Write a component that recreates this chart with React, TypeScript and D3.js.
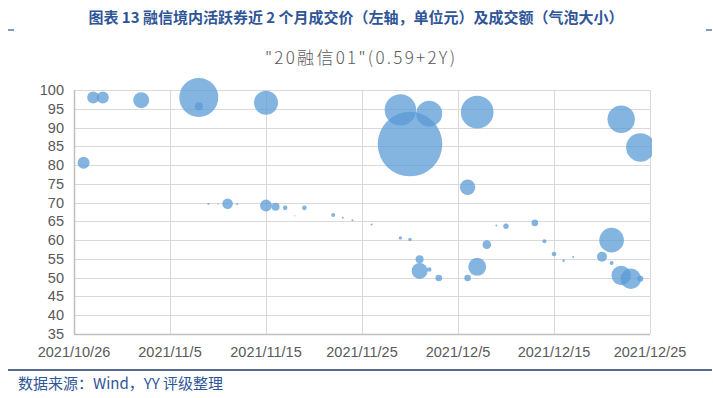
import React, { useEffect, useRef } from 'react';
import * as d3 from 'd3';

// trade dates, price (left axis, yuan) and volume (bubble size)
const dates = [
  "2021/10/27", "2021/10/28", "2021/10/29", "2021/11/2", "2021/11/8", "2021/11/8",
  "2021/11/9", "2021/11/10", "2021/11/11", "2021/11/12", "2021/11/15", "2021/11/15",
  "2021/11/16", "2021/11/17", "2021/11/18", "2021/11/19", "2021/11/22", "2021/11/23",
  "2021/11/24", "2021/11/26", "2021/11/29", "2021/11/29", "2021/11/30", "2021/11/30",
  "2021/12/1", "2021/12/1", "2021/12/2", "2021/12/2", "2021/12/3", "2021/12/6",
  "2021/12/6", "2021/12/7", "2021/12/7", "2021/12/8", "2021/12/9", "2021/12/10",
  "2021/12/13", "2021/12/14", "2021/12/15", "2021/12/16", "2021/12/17", "2021/12/20",
  "2021/12/21", "2021/12/21", "2021/12/22", "2021/12/22", "2021/12/23", "2021/12/24",
  "2021/12/24",
];
const prices = [
  80.6, 98.0, 98.0, 97.3, 98.0, 95.7,
  69.6, 69.6, 69.7, 69.6, 96.6, 69.2,
  68.9, 68.6, 66.5, 68.6, 66.7, 66.0,
  65.3, 64.2, 94.7, 60.6, 85.6, 60.2,
  54.9, 51.8, 93.7, 52.2, 49.9, 74.1,
  49.9, 94.1, 52.9, 58.8, 63.9, 63.7,
  64.6, 59.7, 56.3, 54.5, 55.5, 55.6,
  60.0, 53.9, 92.2, 50.6, 49.7, 84.7,
  49.7,
];
const volumes = [
  360, 360, 360, 640, 3800, 160,
  10, 5, 280, 10, 1440, 360,
  160, 53, 3, 53, 40, 10,
  10, 10, 2465, 29, 10433, 29,
  160, 640, 1690, 53, 109, 593,
  109, 2657, 810, 185, 10, 73,
  109, 40, 53, 17, 10, 250,
  1513, 40, 1877, 941, 1061, 2045,
  90,
];
const tickDates = ["2021/10/26", "2021/11/5", "2021/11/15", "2021/11/25", "2021/12/5", "2021/12/15", "2021/12/25"];
const priceTicks = [35, 40, 45, 50, 55, 60, 65, 70, 75, 80, 85, 90, 95, 100];

const W = 713;
const H = 398;

export default function App() {
  const svgRef = useRef<SVGSVGElement>(null);

  useEffect(() => {
    if (!svgRef.current) return;
    const svg = d3.select(svgRef.current);
    svg.selectAll("*").remove();

    const parse = d3.timeParse("%Y/%m/%d");
    const fmt = d3.timeFormat("%Y/%-m/%-d");
    const margin = { top: 90, right: 63, bottom: 64, left: 74 };

    const x = d3.scaleTime()
      .domain([parse(tickDates[0])!, parse(tickDates[tickDates.length - 1])!])
      .range([margin.left, W - margin.right]);
    const y = d3.scaleLinear()
      .domain([35, 100])
      .range([H - margin.bottom, margin.top]);
    const r = d3.scaleSqrt().domain([0, 10433]).range([0, 32.3]);

    // header
    svg.append("text")
      .attr("x", 356).attr("y", 23)
      .attr("text-anchor", "middle")
      .attr("font-family", "'Noto Sans CJK SC', sans-serif")
      .attr("font-size", 15).attr("font-weight", "bold")
      .attr("fill", "#2f5597")
      .text("图表 13 融信境内活跃券近 2 个月成交价（左轴，单位元）及成交额（气泡大小）");
    svg.append("line").attr("x1", 8).attr("x2", 14).attr("y1", 30).attr("y2", 30)
      .attr("stroke", "#2f5597").attr("stroke-width", 1.2);
    svg.append("line").attr("x1", 706).attr("x2", 712).attr("y1", 30).attr("y2", 30)
      .attr("stroke", "#2f5597").attr("stroke-width", 1.2);

    svg.append("text")
      .attr("x", 265).attr("y", 64)
      .attr("textLength", 190).attr("lengthAdjust", "spacing")
      .attr("font-family", "'Noto Sans CJK SC', sans-serif")
      .attr("font-size", 17).attr("font-weight", 300)
      .attr("fill", "#595959")
      .text('"20融信01"(0.59+2Y)');

    // grid
    const grid = svg.append("g").attr("stroke", "#d9d9d9").attr("stroke-width", 1);
    grid.selectAll("line.h")
      .data(priceTicks.slice(1))
      .enter().append("line")
      .attr("x1", margin.left).attr("x2", W - margin.right)
      .attr("y1", d => Math.round(y(d)) + 0.5).attr("y2", d => Math.round(y(d)) + 0.5);
    grid.selectAll("line.v")
      .data(tickDates.slice(1))
      .enter().append("line")
      .attr("x1", d => Math.round(x(parse(d)!)) + 0.5).attr("x2", d => Math.round(x(parse(d)!)) + 0.5)
      .attr("y1", margin.top).attr("y2", H - margin.bottom);

    // axes lines
    svg.append("line")
      .attr("x1", margin.left + 0.5).attr("x2", margin.left + 0.5)
      .attr("y1", margin.top).attr("y2", H - margin.bottom)
      .attr("stroke", "#bfbfbf").attr("stroke-width", 1.5);
    svg.append("line")
      .attr("x1", margin.left).attr("x2", W - margin.right)
      .attr("y1", H - margin.bottom + 0.5).attr("y2", H - margin.bottom + 0.5)
      .attr("stroke", "#bfbfbf").attr("stroke-width", 1.5);

    // tick labels
    svg.append("g").selectAll("text")
      .data(priceTicks)
      .enter().append("text")
      .attr("x", margin.left - 10)
      .attr("y", d => y(d) + 5)
      .attr("text-anchor", "end")
      .attr("font-family", "'Liberation Sans', Arial, sans-serif")
      .attr("font-size", 14.5)
      .attr("fill", "#595959")
      .text(d => d);
    svg.append("g").selectAll("text")
      .data(tickDates)
      .enter().append("text")
      .attr("x", d => x(parse(d)!))
      .attr("y", H - margin.bottom + 23)
      .attr("text-anchor", "middle")
      .attr("font-family", "'Liberation Sans', Arial, sans-serif")
      .attr("font-size", 14.5)
      .attr("fill", "#595959")
      .text(d => fmt(parse(d)!));

    // bubbles
    svg.append("defs").append("clipPath").attr("id", "plot-clip")
      .append("rect")
      .attr("x", margin.left).attr("y", 40)
      .attr("width", W - margin.right - margin.left + 2)
      .attr("height", H - margin.bottom - 40);

    const pts = dates.map((d, i) => ({ date: parse(d)!, price: prices[i], vol: volumes[i] }))
      .sort((a, b) => b.vol - a.vol);
    svg.append("g").attr("clip-path", "url(#plot-clip)")
      .selectAll("circle")
      .data(pts)
      .enter().append("circle")
      .attr("cx", d => x(d.date))
      .attr("cy", d => y(d.price))
      .attr("r", d => Math.max(0.6, r(d.vol)))
      .attr("fill", "#5b9bd5")
      .attr("fill-opacity", 0.75);

    // footer
    svg.append("line").attr("x1", 8).attr("x2", 712).attr("y1", 370).attr("y2", 370)
      .attr("stroke", "#1f3864").attr("stroke-width", 1.5);
    svg.append("text")
      .attr("x", 18).attr("y", 389)
      .attr("font-family", "'Noto Sans CJK SC', sans-serif")
      .attr("font-size", 15)
      .attr("fill", "#2f5597")
      .text("数据来源：Wind，YY 评级整理");
  }, []);

  return (
    <svg ref={svgRef} width={W} height={H}
      style={{ position: 'absolute', left: 0, top: 0, background: '#fff' }} />
  );
}
